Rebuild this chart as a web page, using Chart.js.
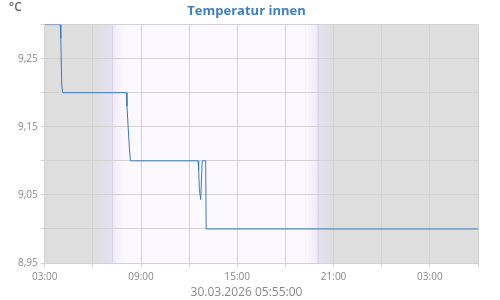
<!DOCTYPE html>
<html>
<head>
<meta charset="utf-8">
<script src="https://cdn.jsdelivr.net/npm/chart.js@4"></script>
<style>
  body { margin: 0; background: #fff; }
  #wrap { width: 500px; height: 300px; }
</style>
</head>
<body>
<div id="wrap"><canvas id="myChart" width="500" height="300"></canvas></div>
<script>
// hours since 30.03.2026 00:00
var times = [3.0, 3.97, 4.0, 4.06, 4.125, 8.08, 8.125, 8.27, 8.34, 12.56, 12.59, 12.64, 12.72, 12.81, 13.03, 13.06, 30.0];
var temps = [9.30, 9.30, 9.28, 9.21, 9.20, 9.20, 9.18, 9.12, 9.10, 9.10, 9.086, 9.058, 9.043, 9.10, 9.10, 9.00, 9.00];
var yLabels = ['8,95', '9,05', '9,15', '9,25'];
var sunrise = 7.2, sunset = 20.0;

var dayNight = {
	id: 'dayNight',
	beforeDraw: function(chart) {
		var ctx = chart.ctx, a = chart.chartArea, x = chart.scales.x;
		ctx.save();
		ctx.fillStyle = '#dedede';
		ctx.fillRect(a.left, a.top, a.right - a.left, a.bottom - a.top);

		var m0 = x.getPixelForValue(6.0), m1 = x.getPixelForValue(8.0);
		var e0 = x.getPixelForValue(19.25), e1 = x.getPixelForValue(21.0);
		ctx.fillStyle = '#fbf9ff';
		ctx.fillRect(m1, a.top, e0 - m1, a.bottom - a.top);

		var g = ctx.createLinearGradient(m0, 0, m1, 0);
		g.addColorStop(0, '#dedede');
		g.addColorStop(0.58, '#e4e1f1');
		g.addColorStop(0.6, '#f0e9ff');
		g.addColorStop(1, '#fbf9ff');
		ctx.fillStyle = g;
		ctx.fillRect(m0, a.top, m1 - m0, a.bottom - a.top);

		var g2 = ctx.createLinearGradient(e0, 0, e1, 0);
		g2.addColorStop(0, '#fbf9ff');
		g2.addColorStop(0.41, '#f0e9ff');
		g2.addColorStop(0.43, '#e4e1f1');
		g2.addColorStop(1, '#dedede');
		ctx.fillStyle = g2;
		ctx.fillRect(e0, a.top, e1 - e0, a.bottom - a.top);

		// sunrise / sunset lines
		ctx.strokeStyle = '#d8d6e0';
		ctx.lineWidth = 1;
		[sunrise, sunset].forEach(function(t) {
			var px = Math.round(x.getPixelForValue(t)) + 0.5;
			ctx.beginPath();
			ctx.moveTo(px, a.top);
			ctx.lineTo(px, a.bottom);
			ctx.stroke();
		});
		ctx.restore();
	},
	afterDraw: function(chart) {
		var ctx = chart.ctx;
		ctx.save();
		ctx.font = '600 12px "Open Sans"';
		ctx.fillStyle = '#666';
		ctx.textBaseline = 'top';
		ctx.fillText('°C', 9, 2);
		ctx.restore();
	}
};

var ctx = document.getElementById('myChart').getContext('2d');
var myChart = new Chart(ctx, {
	type: 'line',
	data: {
		datasets: [{
			label: 'Temperatur innen',
			data: times.map(function(t, i) { return { x: t, y: temps[i] }; }),
			borderColor: '#3a7cbb',
			borderWidth: 1,
			pointRadius: 0,
			tension: 0,
			fill: false
		}]
	},
	options: {
		responsive: false,
		animation: false,
		layout: { padding: { left: 15, right: 22, top: 0, bottom: 0 } },
		plugins: {
			legend: { display: false },
			tooltip: { enabled: false },
			title: {
				display: true,
				text: 'Temperatur innen',
				color: '#3f80bd',
				font: { family: 'Open Sans', size: 13, weight: 'bold' },
				padding: { top: 3, bottom: 6 }
			},
			subtitle: {
				display: true,
				position: 'bottom',
				text: '30.03.2026 05:55:00',
				color: '#888',
				font: { family: 'Open Sans', size: 12, lineHeight: 1 },
				padding: { top: 0, bottom: 1 }
			}
		},
		scales: {
			x: {
				type: 'linear',
				min: 3,
				max: 30,
				ticks: {
					stepSize: 3,
					autoSkip: false,
					maxRotation: 0,
					color: '#888',
					font: { family: 'Open Sans', size: 10, lineHeight: 1 },
					padding: 5,
					callback: function(v) {
						if ((v - 3) % 6 !== 0) return '';
						var h = v % 24;
						return (h < 10 ? '0' : '') + h + ':00';
					}
				},
				grid: { color: '#d2d2d2', tickLength: 4 },
				border: { color: '#d2d2d2' }
			},
			y: {
				min: 8.95,
				max: 9.30,
				ticks: {
					stepSize: 0.05,
					color: '#888',
					font: { family: 'Open Sans', size: 10 },
					padding: 3,
					callback: function(v) {
						var k = Math.round(v * 100);
						if (k % 10 !== 5) return '';
						return yLabels[(k - 895) / 10];
					}
				},
				grid: { color: '#d2d2d2', tickLength: 4 },
				border: { color: '#d2d2d2' }
			}
		}
	},
	plugins: [dayNight]
});
</script>
</body>
</html>
